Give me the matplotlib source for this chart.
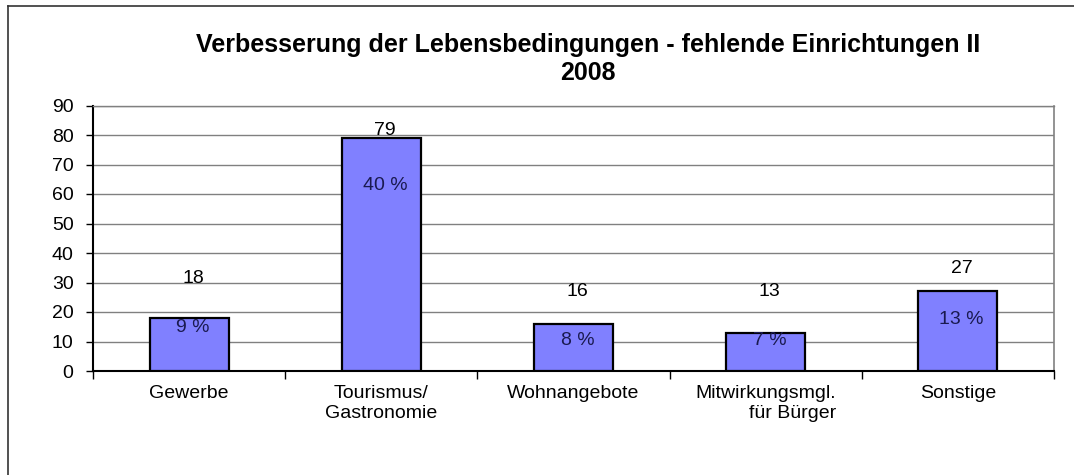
import matplotlib
matplotlib.use("Agg")
import matplotlib.pyplot as plt
from matplotlib.lines import Line2D

categories = ["Gewerbe", "Tourismus/\nGastronomie", "Wohnangebote",
              "Mitwirkungsmgl.\nfür Bürger", "Sonstige"]
counts = [18, 79, 16, 13, 27]
percents = [9, 40, 8, 7, 13]
yticks = [0, 10, 20, 30, 40, 50, 60, 70, 80, 90]
title = "Verbesserung der Lebensbedingungen - fehlende Einrichtungen II\n2008"

# label placement (layout only, in data units)
count_label_y = [31.5, 81.4, 27.1, 27.1, 34.6]
pct_label_y = [14.6, 63.0, 10.5, 10.2, 17.6]

plt.rcParams['font.family'] = ['Liberation Sans', 'DejaVu Sans']

fig = plt.figure(figsize=(10.74, 4.75), dpi=100)
ax = fig.add_axes([93/1074, 1-371/475, (1054-93)/1074, (371-105.5)/475])

x = list(range(len(categories)))
ax.bar(x, counts, width=0.41, color='#8080FF', edgecolor='black', linewidth=1.6, zorder=3)

ax.set_xlim(-0.5, len(categories)-0.5)
ax.set_ylim(0, 90)
ax.set_yticks(yticks)
ax.set_yticklabels([str(v) for v in yticks], fontsize=14)
ax.yaxis.grid(True, color='#808080', linewidth=1.0, zorder=0)
ax.set_axisbelow(True)

ax.set_xticks(x)
ax.set_xticklabels(categories, fontsize=14, multialignment='center', linespacing=1.25)
for lbl, cat in zip(ax.get_xticklabels(), categories):
    if cat.startswith("Mitwirkung"):
        lbl.set_multialignment('right')
        lbl.set_x(0)
ax.set_xticks([i - 0.5 for i in range(len(categories)+1)], minor=True)
ax.tick_params(axis='x', which='major', length=0, pad=10)
ax.tick_params(axis='x', which='minor', length=6, width=1.0, color='black')
ax.tick_params(axis='y', length=5, width=1.0, pad=9, color='black')

for s in ['left', 'bottom']:
    ax.spines[s].set_color('black')
    ax.spines[s].set_linewidth(1.5)
ax.spines['right'].set_color('#808080')
ax.spines['right'].set_linewidth(1.2)
ax.spines['top'].set_color('#808080')
ax.spines['top'].set_linewidth(1.0)

for i, (c, p) in enumerate(zip(counts, percents)):
    ax.text(i + 0.02, count_label_y[i], str(c), ha='center', va='center',
            fontsize=14, color='black', zorder=4)
    ax.text(i + 0.02, pct_label_y[i], f"{p} %", ha='center', va='center',
            fontsize=14, color='#1A1A50', zorder=4)

fig.text(588/1074, 1-59/475, title, ha='center', va='center', fontsize=18,
         fontweight='bold', linespacing=1.2)

# outer frame (top and left only visible)
fig.add_artist(Line2D([8/1074, 1], [1-6/475, 1-6/475], color='#333333', linewidth=1.2))
fig.add_artist(Line2D([8/1074, 8/1074], [0, 1-6/475], color='#333333', linewidth=1.2))

fig.savefig("out.png", dpi=100)
